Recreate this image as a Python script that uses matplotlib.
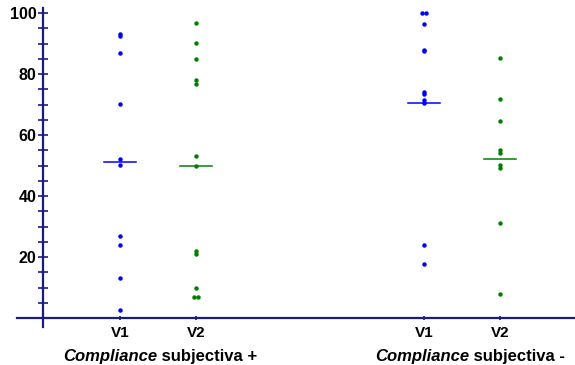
import matplotlib
matplotlib.use("Agg")
import matplotlib.pyplot as plt
import numpy as np

# ---- data ----
groups = ["Compliance subjectiva +", "Compliance subjectiva -"]
visits = ["V1", "V2"]
g1_v1 = [93.0, 92.5, 86.8, 70.1, 52.0, 50.2, 26.8, 24.0, 13.0, 2.5]
g1_v2 = [96.8, 90.1, 84.9, 77.9, 76.8, 53.2, 49.7, 22.0, 21.1, 9.8, 7.0, 7.0]
g2_v1 = [100.0, 100.0, 96.5, 87.8, 87.4, 74.2, 73.3, 71.5, 70.6, 24.0, 17.8]
g2_v2 = [85.1, 71.8, 64.7, 55.2, 54.2, 50.2, 49.2, 31.1, 8.0]
means = [51.0, 49.7, 70.6, 52.0]
yticks_major = [20, 40, 60, 80, 100]

series = [g1_v1, g1_v2, g2_v1, g2_v2]
positions = [1, 2, 5, 6]
colors = ["#0000FF", "#008000", "#0000FF", "#008000"]
axis_color = "#1a1a80"

plt.rcParams["font.family"] = ["Liberation Sans", "DejaVu Sans"]

fig = plt.figure(figsize=(5.75, 3.65), dpi=100)
ax = fig.add_axes([17 / 575, 0.1036, 558 / 575, 0.875])
ax.set_xlim(-0.355, 6.99)
ax.set_ylim(-3, 101.7)

for vals, pos, col, m in zip(series, positions, colors, means):
    vals = np.asarray(vals, dtype=float)
    xs = np.full(len(vals), float(pos))
    # side-by-side placement for identical values
    for v in np.unique(vals):
        idx = np.where(vals == v)[0]
        if len(idx) > 1:
            offs = (np.arange(len(idx)) - (len(idx) - 1) / 2) * 0.06
            xs[idx] = pos + offs
    ax.plot(xs, vals, linestyle="none", marker="o", markersize=3.2,
            markeredgewidth=0, color=col, zorder=3)
    ax.plot([pos - 0.21, pos + 0.21], [m, m], color=col, lw=1.1, zorder=2)

# spines
for s in ["top", "right"]:
    ax.spines[s].set_visible(False)
ax.spines["left"].set_position(("data", -0.01))
ax.spines["bottom"].set_position(("data", 0))
for s in ["left", "bottom"]:
    ax.spines[s].set_color(axis_color)
    ax.spines[s].set_linewidth(1.6)

ax.set_yticks(np.arange(5, 101, 5))
ax.set_yticklabels([str(int(t)) if t in yticks_major else "" for t in np.arange(5, 101, 5)])
ax.tick_params(axis="y", direction="inout", length=7.5, width=1.2, color=axis_color,
               labelsize=11.5, pad=1)
for lab in ax.get_yticklabels():
    lab.set_fontweight("bold")

ax.set_xticks(positions)
ax.set_xticklabels(visits * 2, fontweight="bold", fontsize=11)
ax.tick_params(axis="x", direction="inout", length=3.5, width=1.2, color=axis_color, pad=4)

# group labels: italic-bold "Compliance" followed by bold rest
label_starts = [0.25, 4.36]
for g, xs0 in zip(groups, label_starts):
    first, rest = g.split(" ", 1)
    t1 = ax.text(xs0, -12.6, first, fontsize=12, fontweight="bold", style="italic",
                 ha="left", va="center", clip_on=False)
    ax.annotate(" " + rest, xy=(1, 0.5), xycoords=t1, fontsize=12, fontweight="bold",
                ha="left", va="center", annotation_clip=False)

fig.savefig("out.png", dpi=100)
